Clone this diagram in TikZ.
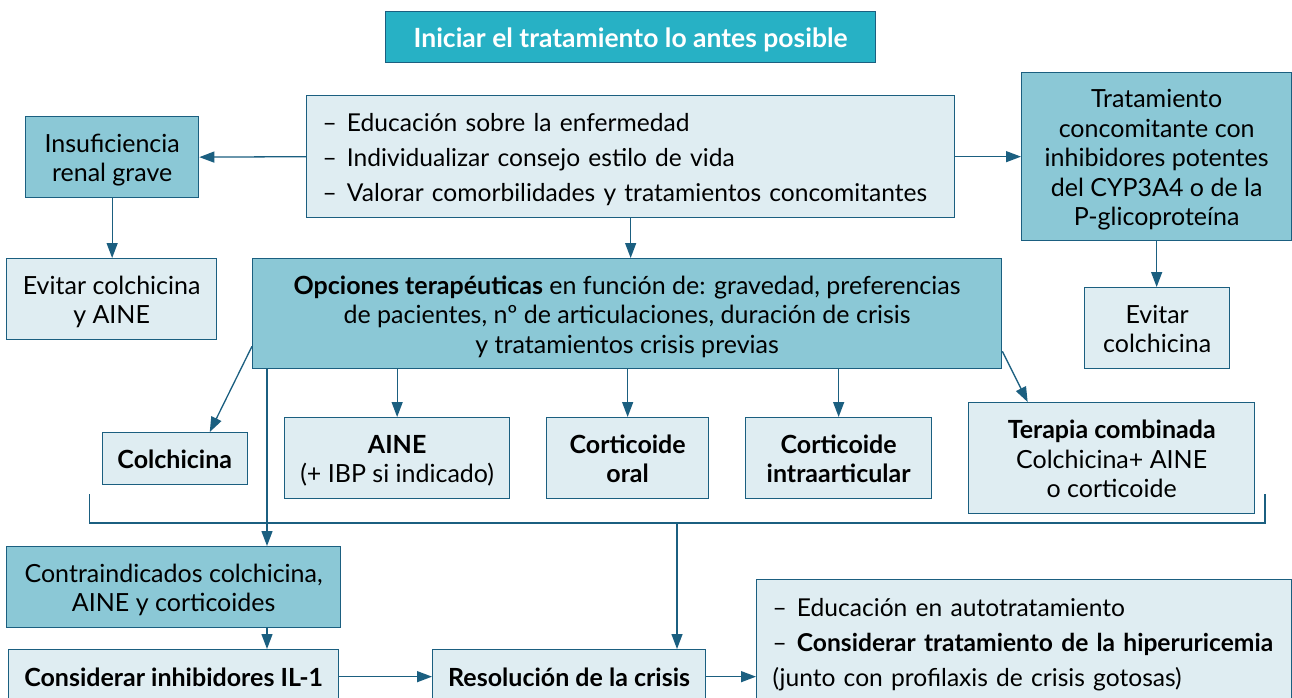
\documentclass[tikz,border=0pt]{standalone}
\usepackage{fontspec}
\setmainfont{Lato}
\usetikzlibrary{arrows.meta,calc}
\definecolor{tealA}{HTML}{27B1C5}
\definecolor{darkF}{HTML}{8BC8D6}
\definecolor{lightF}{HTML}{DFEDF2}
\definecolor{lineC}{HTML}{1B5F80}
\newcommand\stT{\rule{0pt}{27pt}}
\newcommand\stB{\rule[-7pt]{0pt}{7pt}}
\begin{document}
\begin{tikzpicture}[x=1pt,y=-1pt,
  font=\fontsize{25}{29.5}\selectfont,
  box/.style={draw=lineC, line width=1.3pt, inner sep=0pt, align=center, anchor=north west},
  lbox/.style={box, fill=lightF},
  dbox/.style={box, fill=darkF},
  bf/.style={font=\fontsize{25}{29.5}\selectfont\bfseries},
  arr/.style={draw=lineC, line width=1.3pt, -{Triangle[length=15pt,width=11pt]}},
  ln/.style={draw=lineC, line width=1.3pt}]
\useasboundingbox (0,0) rectangle (1292,697);
\clip (0,0) rectangle (1292,697);
\fill[white] (0,0) rectangle (1292,697);
% nodes
\node[box, fill=tealA, text=white, font=\fontsize{26.5}{29}\selectfont\bfseries, minimum width=490pt, minimum height=51pt] (title) at (385,11) {\stT Iniciar el tratamiento lo antes posible\stB};
\node[lbox, align=left, text width=616pt, inner xsep=16pt, minimum height=122pt, font=\fontsize{24.6}{35}\selectfont] (edu) at (306,95)
 {\stT–\hspace{10pt}Educación sobre la enfermedad\\–\hspace{10pt}Individualizar consejo estilo de vida\\–\hspace{10pt}Valorar comorbilidades y tratamientos concomitantes\stB};
\node[dbox, minimum width=173pt, minimum height=81pt] (ins) at (25,116) {\stT Insuficiencia\\renal grave\stB};
\node[lbox, minimum width=210pt, minimum height=81pt] (ev1) at (6,258) {\stT Evitar colchicina\\y AINE\stB};
\node[dbox, minimum width=749pt, minimum height=110pt] (opc) at (252,258)
 {\stT\textbf{Opciones terapéuticas} en función de: gravedad, preferencias\\de pacientes, nº de articulaciones, duración de crisis\\y tratamientos crisis previas\stB};
\node[dbox, minimum width=270pt, minimum height=168pt] (trat) at (1021,72)
 {\stT Tratamiento\\concomitante con\\inhibidores potentes\\del CYP3A4 o de la\\P-glicoproteína\stB};
\node[lbox, minimum width=145pt, minimum height=81pt] (ev2) at (1084,287) {\stT Evitar\\colchicina\stB};
\node[lbox, bf, minimum width=145pt, minimum height=52pt] (colch) at (101.6,432) {\stT Colchicina\stB};
\node[lbox, minimum width=225pt, minimum height=81pt] (aine) at (284,417) {\stT\textbf{AINE}\\(+ IBP si indicado)\stB};
\node[lbox, bf, minimum width=162pt, minimum height=81pt] (coro) at (546,417) {\stT Corticoide\\oral\stB};
\node[lbox, bf, minimum width=186pt, minimum height=81pt] (cori) at (745,417) {\stT Corticoide\\intraarticular\stB};
\node[lbox, minimum width=286pt, minimum height=111pt] (ter) at (968,402) {\stT\textbf{Terapia combinada}\\Colchicina+ AINE\\o corticoide\stB};
\node[dbox, minimum width=334pt, minimum height=81pt] (contra) at (6,546) {\stT Contraindicados colchicina,\\AINE y corticoides\stB};
\node[lbox, bf, minimum width=330pt, minimum height=54pt] (cons) at (8,649) {\stT Considerar inhibidores IL-1\stB};
\node[lbox, bf, minimum width=273pt, minimum height=54pt] (res) at (432,649) {\stT Resolución de la crisis\stB};
\node[lbox, align=left, text width=503pt, inner xsep=16pt, minimum height=124pt, font=\fontsize{24.6}{35}\selectfont] (last) at (756,579)
 {\stT–\hspace{10pt}Educación en autotratamiento\\\mbox{–\hspace{10pt}\textbf{Considerar tratamiento de la hiperuricemia}}\\(junto con profilaxis de crisis gotosas)\stB};
% bracket coordinates
\coordinate (bl) at (89.5,494);
\coordinate (blb) at (89.5,523);
\coordinate (brb) at (1265,523);
\coordinate (br) at (1265,494);
\coordinate (bm) at (677,523);
% connectors
\draw[arr] (edu.west) -- (ins.east);
\draw[arr] (edu.east) -- (trat.west);
\draw[arr] (ins.south) -- (ins.south |- ev1.north);
\draw[arr] (trat.south) -- (trat.south |- ev2.north);
\draw[arr] (edu.south) -- (edu.south |- opc.north);
\draw[arr] ([yshift=23pt]opc.south west) -- ([xshift=35pt]colch.north);
\draw[arr] (opc.south -| aine.north) -- (aine.north);
\draw[arr] (opc.south -| coro.north) -- (coro.north);
\draw[arr] (opc.south -| cori.north) -- (cori.north);
\draw[arr] ([yshift=18pt]opc.south east) -- ([xshift=-84pt]ter.north);
\draw[arr] ([xshift=15pt]opc.south west) -- ([xshift=15pt]opc.south west |- contra.north);
\draw[ln] (bl) -- (blb) -- (brb) -- (br);
\draw[arr] (bm) -- (bm |- res.north);
\draw[arr] ([xshift=15pt]opc.south west |- contra.south) -- ([xshift=15pt]opc.south west |- cons.north);
\draw[arr] (cons.east) -- (res.west);
\draw[arr] (res.east) -- (res.east -| last.west);
\end{tikzpicture}
\end{document}
